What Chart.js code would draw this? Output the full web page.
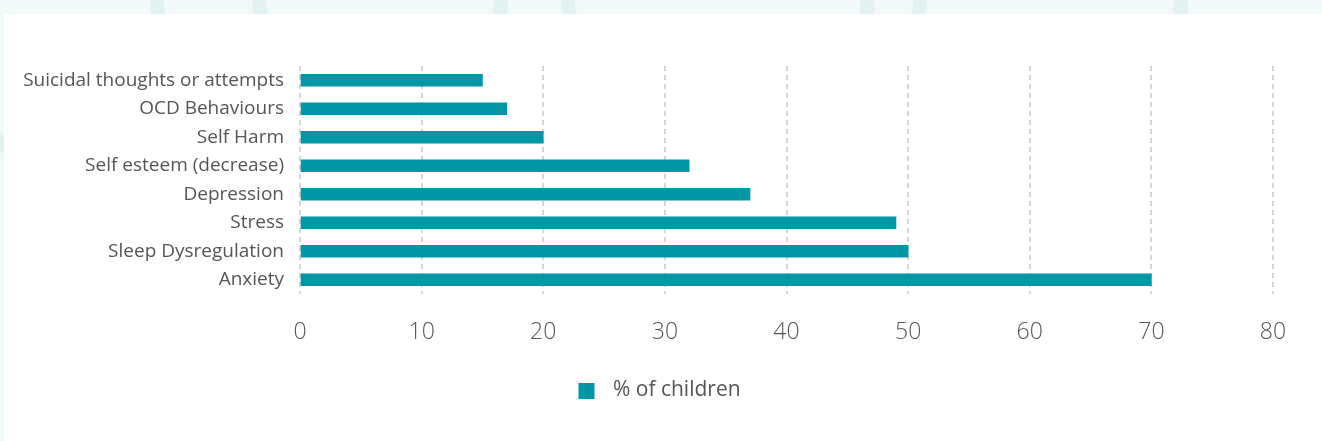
<!DOCTYPE html>
<html>
<head>
<meta charset="utf-8">
<script src="https://cdn.jsdelivr.net/npm/chart.js@4.4.0/dist/chart.umd.min.js"></script>
<style>
  html, body { margin: 0; padding: 0; width: 1322px; height: 441px; overflow: hidden; background: #f1f9f9; }
  .ring { position: absolute; border: 14px solid #e2f1f1; border-radius: 50%; }
  #card { position: absolute; left: 4px; top: 14px; width: 1318px; height: 427px; background: #ffffff; }
  #wrap { position: absolute; left: 0; top: 0; width: 1322px; height: 441px; }
</style>
</head>
<body>
<div class="ring" style="left:-60px; top:-140px; width:300px; height:300px;"></div>
<div class="ring" style="left:150px; top:-180px; width:330px; height:330px;"></div>
<div class="ring" style="left:560px; top:-200px; width:340px; height:340px;"></div>
<div class="ring" style="left:860px; top:-150px; width:300px; height:300px;"></div>
<div id="card"></div>
<div id="wrap"><canvas id="impactChart"></canvas></div>
<script>
// categories, top to bottom
var categories = [
  "Suicidal thoughts or attempts",
  "OCD Behaviours",
  "Self Harm",
  "Self esteem (decrease)",
  "Depression",
  "Stress",
  "Sleep Dysregulation",
  "Anxiety"
];
var children_pct = [15, 17, 20, 32, 37, 49, 50, 70];
var series_name = "% of children";
var x_min = 0;
var x_max = 80;
var x_step = 10;

var bar_color = "#0297a6";
var text_color = "#555555";
var font_family = "'Open Sans', 'Liberation Sans', sans-serif";

// legend swatch: blank room left (to nudge the legend right) and right (gap to text)
function make_swatch() {
  var c = document.createElement("canvas");
  c.width = 66;
  c.height = 16;
  var g = c.getContext("2d");
  g.fillStyle = bar_color;
  g.fillRect(42, 0, 16, 16);
  return c;
}

function init_chart() {
  var swatch = make_swatch();
  var ctx = document.getElementById("impactChart").getContext("2d");
  new Chart(ctx, {
    type: "bar",
    data: {
      labels: categories,
      datasets: [{
        label: series_name,
        data: children_pct,
        backgroundColor: bar_color,
        borderWidth: 0,
        barThickness: 12,
        pointStyle: swatch
      }]
    },
    options: {
      indexAxis: "y",
      responsive: true,
      maintainAspectRatio: false,
      animation: false,
      layout: {
        padding: { top: 66, right: 49, bottom: 30, left: 4 }
      },
      scales: {
        x: {
          min: x_min,
          max: x_max,
          ticks: {
            stepSize: x_step,
            color: text_color,
            padding: 25,
            font: { family: font_family, size: 23, weight: 300 }
          },
          grid: {
            color: "#d6d6d6",
            lineWidth: 2,
            drawTicks: false
          },
          border: { display: false, dash: [5, 4] },
          afterFit: function (scale) { scale.height = 72; }
        },
        y: {
          ticks: {
            color: text_color,
            padding: 16,
            font: { family: font_family, size: 19 }
          },
          grid: { display: false, drawTicks: false },
          border: { display: false },
          afterFit: function (scale) { scale.width = 296; }
        }
      },
      plugins: {
        legend: {
          position: "bottom",
          labels: {
            color: text_color,
            usePointStyle: true,
            pointStyleWidth: 66,
            boxHeight: 16,
            padding: 14,
            font: { family: font_family, size: 21 }
          }
        },
        tooltip: { enabled: false }
      }
    }
  });
}

window.addEventListener("DOMContentLoaded", init_chart);
</script>
</body>
</html>
